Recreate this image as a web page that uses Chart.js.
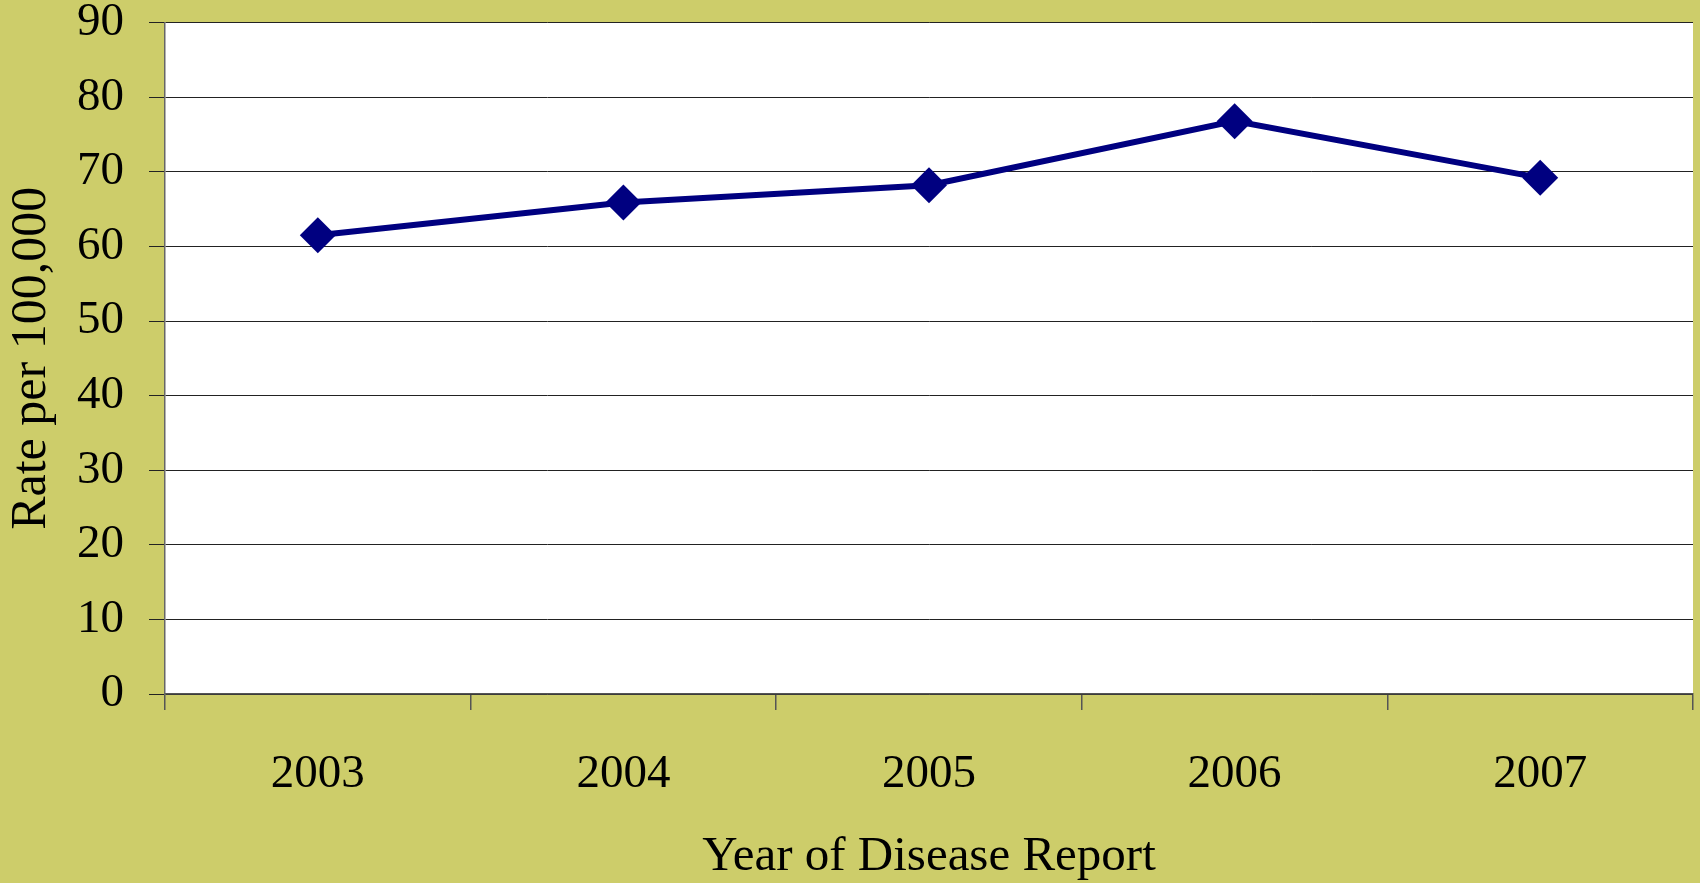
<!DOCTYPE html>
<html>
<head>
<meta charset="utf-8">
<script src="https://cdn.jsdelivr.net/npm/chart.js@4"></script>
<style>
  html, body { margin: 0; padding: 0; background: #cdcd6a; }
  #wrap { width: 1700px; height: 883px; position: relative; }
  canvas { display: block; }
</style>
</head>
<body>
<div id="wrap"><canvas id="c" width="1700" height="883"></canvas></div>
<script>
const years = ['2003', '2004', '2005', '2006', '2007'];
const rates = [61.5, 65.9, 68.2, 76.8, 69.2];
const yMin = 0, yMax = 90, yStep = 10;
const xTitle = 'Year of Disease Report';
const yTitle = 'Rate per 100,000';

const whiteArea = {
  id: 'whiteArea',
  beforeDraw(chart) {
    const { ctx, chartArea: a } = chart;
    ctx.save();
    ctx.fillStyle = '#ffffff';
    ctx.fillRect(a.left, a.top, a.right - a.left, a.bottom - a.top);
    ctx.restore();
  }
};

new Chart(document.getElementById('c'), {
  type: 'line',
  data: {
    labels: years,
    datasets: [{
      data: rates,
      borderColor: '#000080',
      backgroundColor: '#000080',
      borderWidth: 6,
      pointStyle: 'rectRot',
      pointRadius: 18,
      pointHoverRadius: 18,
      pointBorderWidth: 0,
      tension: 0,
      fill: false
    }]
  },
  options: {
    responsive: false,
    animation: false,
    devicePixelRatio: 1,
    layout: { autoPadding: false, padding: { top: 0, right: 7, bottom: 0, left: 0 } },
    plugins: { legend: { display: false }, tooltip: { enabled: false } },
    scales: {
      x: {
        offset: true,
        afterFit(s) { s.height = 189; s.paddingLeft = 0; s.paddingRight = 0; },
        grid: { display: true, drawOnChartArea: false, offset: true, tickLength: 16, color: '#555', lineWidth: 1.5 },
        border: { display: true, color: '#555', width: 1.5 },
        ticks: { color: '#000', padding: 36, font: { family: 'Liberation Serif', size: 47, lineHeight: 1.2 } },
        title: { display: true, text: xTitle, color: '#000', padding: { top: 0, bottom: -4 }, font: { family: 'Liberation Serif', size: 49, lineHeight: 1.2 } }
      },
      y: {
        min: yMin, max: yMax,
        afterFit(s) { s.width = 165; s.paddingTop = 22.7; s.paddingBottom = 0; },
        grid: { color: '#222', lineWidth: 1, tickLength: 16 },
        border: { display: true, color: '#666', width: 1.5 },
        ticks: { stepSize: yStep, color: '#000', padding: 25, font: { family: 'Liberation Serif', size: 47, lineHeight: 1.0 } },
        title: { display: true, text: yTitle, color: '#000', padding: 2, font: { family: 'Liberation Serif', size: 50, lineHeight: 1.2 } }
      }
    }
  },
  plugins: [whiteArea]
});
</script>
</body>
</html>
